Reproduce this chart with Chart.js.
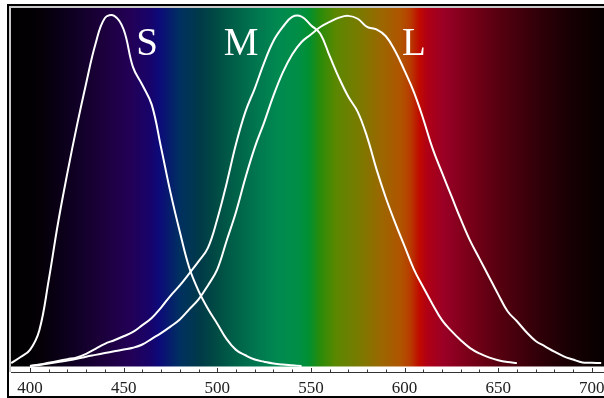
<!DOCTYPE html>
<html>
<head>
<meta charset="utf-8">
<script src="https://cdn.jsdelivr.net/npm/chart.js@4.4.0/dist/chart.umd.min.js"></script>
<style>
  html, body { margin: 0; padding: 0; background: #fff; }
  canvas { display: block; }
</style>
</head>
<body>
<canvas id="myChart" width="604" height="398"></canvas>
<script>
// cone sensitivity curves (relative units, 5 nm steps)
const wavelength = [390, 395, 400, 405, 410, 415, 420, 425, 430, 435, 440, 445, 450, 455, 460, 465,
  470, 475, 480, 485, 490, 495, 500, 505, 510, 515, 520, 525, 530, 535, 540, 545,
  550, 555, 560, 565, 570, 575, 580, 585, 590, 595, 600, 605, 610, 615, 620, 625,
  630, 635, 640, 645, 650, 655, 660, 665, 670, 675, 680, 685, 690, 695, 700, 705];

const sCone = [0.008, 0.025, 0.045, 0.10, 0.24, 0.40, 0.54, 0.67, 0.79, 0.90, 0.972, 0.978, 0.94, 0.835, 0.785, 0.73,
  0.61, 0.485, 0.375, 0.275, 0.21, 0.16, 0.118, 0.075, 0.045, 0.03, 0.018, 0.012, 0.007, 0.004, 0.002, 0.0,
  null, null, null, null, null, null, null, null, null, null, null, null, null, null, null, null,
  null, null, null, null, null, null, null, null, null, null, null, null, null, null, null, null];

const mCone = [null, null, 0.0, 0.004, 0.009, 0.014, 0.019, 0.024, 0.034, 0.048, 0.062, 0.072, 0.083, 0.095, 0.114, 0.134,
  0.163, 0.196, 0.225, 0.258, 0.292, 0.33, 0.41, 0.51, 0.62, 0.71, 0.775, 0.847, 0.908, 0.947, 0.975, 0.976,
  0.952, 0.928, 0.866, 0.805, 0.752, 0.71, 0.64, 0.55, 0.47, 0.40, 0.335, 0.27, 0.22, 0.172, 0.128, 0.098,
  0.072, 0.05, 0.035, 0.024, 0.016, 0.011, 0.008, null, null, null, null, null, null, null, null, null];

const lCone = [null, null, 0.0, 0.003, 0.007, 0.011, 0.015, 0.02, 0.026, 0.031, 0.036, 0.041, 0.046, 0.051, 0.06, 0.076,
  0.092, 0.11, 0.13, 0.158, 0.186, 0.225, 0.27, 0.35, 0.43, 0.525, 0.61, 0.68, 0.755, 0.82, 0.87, 0.905,
  0.926, 0.947, 0.961, 0.973, 0.978, 0.97, 0.947, 0.94, 0.921, 0.88, 0.825, 0.765, 0.69, 0.607, 0.54, 0.475,
  0.41, 0.35, 0.30, 0.25, 0.2, 0.153, 0.125, 0.095, 0.07, 0.055, 0.04, 0.027, 0.018, 0.01, 0.009, 0.008];

// curve names and where they sit (nm, relative)
const curveNames = ['S', 'M', 'L'];
const nameX = [462.5, 512.7, 605];
const nameY = [0.869, 0.869, 0.869];

// x axis
const xMin = 389.86;
const xMax = 706.5;
const tickStep = 50;
const minorStep = 10;

// spectrum colours behind the plot
const spectrumNm = [390, 405, 421, 437, 453, 464, 469, 480, 491, 499, 509, 523, 533, 544, 549, 555, 563, 576, 587, 598, 603, 608, 612, 621, 635, 651, 672, 688, 706.5];
const spectrumColor = ['#000000', '#040006', '#0d001f', '#1a0038', '#230055', '#18036a', '#0c0a7a', '#003060', '#003a48', '#004a44', '#006048',
  '#007a50', '#008a50', '#008e45', '#009030', '#2a8c0a', '#5a8800', '#7a7a00', '#9a6800', '#b05400', '#b83c00', '#c00a00', '#b00015',
  '#9a0025', '#780018', '#55000f', '#300008', '#180003', '#060000'];

function toPoints(ys) {
  return wavelength.map((w, i) => ({ x: w, y: ys[i] }));
}

const spectrumPlugin = {
  id: 'spectrum',
  beforeDraw(chart) {
    const { ctx, chartArea: a, scales: { x, y } } = chart;
    ctx.save();
    ctx.fillStyle = '#fff';
    ctx.fillRect(0, 0, chart.width, chart.height);
    const grad = ctx.createLinearGradient(a.left, 0, a.right, 0);
    spectrumNm.forEach((nm, i) => {
      const t = (x.getPixelForValue(nm) - a.left) / (a.right - a.left);
      grad.addColorStop(Math.min(1, Math.max(0, t)), spectrumColor[i]);
    });
    ctx.fillStyle = grad;
    const bottom = y.getPixelForValue(0) + 0.5;
    ctx.fillRect(a.left, a.top, a.right - a.left, bottom - a.top);
    ctx.restore();
  },
  afterDatasetsDraw(chart) {
    const { ctx, scales: { x, y } } = chart;
    ctx.save();
    ctx.fillStyle = '#fff';
    ctx.font = '39px "Liberation Serif", "DejaVu Serif", serif';
    ctx.textAlign = 'center';
    ctx.textBaseline = 'alphabetic';
    curveNames.forEach((n, i) => {
      ctx.fillText(n, x.getPixelForValue(nameX[i]), y.getPixelForValue(nameY[i]));
    });
    ctx.restore();
  },
  afterDraw(chart) {
    const { ctx, chartArea: a, scales: { x } } = chart;
    ctx.save();
    // inward ticks on the axis line
    ctx.strokeStyle = '#333';
    ctx.lineWidth = 1;
    ctx.beginPath();
    for (let v = 400; v <= 700; v += minorStep) {
      const px = Math.round(x.getPixelForValue(v)) + 0.5;
      const len = v % tickStep === 0 ? 4 : 2.5;
      ctx.moveTo(px, a.bottom);
      ctx.lineTo(px, a.bottom - len);
    }
    ctx.stroke();
    // frame round the picture
    ctx.fillStyle = '#000';
    ctx.fillRect(7, 4, chart.width - 7, 2);
    ctx.fillRect(7, 4, 2, chart.height - 4);
    ctx.fillRect(7, chart.height - 2, chart.width - 7, 2);
    ctx.fillStyle = '#c8c8c8';
    ctx.fillRect(9, 6, chart.width - 9, 2);
    ctx.fillRect(9, 6, 2, a.bottom - 6);
    ctx.restore();
  }
};

const line = (data) => ({
  data: data,
  borderColor: '#ffffff',
  borderWidth: 2,
  pointRadius: 0,
  fill: false,
  tension: 0.4,
  spanGaps: false
});

const chart = new Chart(document.getElementById('myChart'), {
  type: 'line',
  data: {
    datasets: [line(toPoints(sCone)), line(toPoints(mCone)), line(toPoints(lCone))]
  },
  options: {
    responsive: false,
    animation: false,
    events: [],
    layout: { padding: { left: 11, top: 8, right: 0, bottom: 1 } },
    plugins: { legend: { display: false }, tooltip: { enabled: false } },
    scales: {
      x: {
        type: 'linear',
        min: xMin,
        max: xMax,
        grid: { display: false, drawTicks: false },
        border: { display: true, color: '#333', width: 1 },
        afterBuildTicks(scale) {
          scale.ticks = scale.ticks.filter(t => t.value >= 400 && t.value <= 700 && t.value % tickStep === 0);
        },
        afterFit(scale) {
          scale.height = 25;
          scale.paddingLeft = 0;
          scale.paddingRight = 0;
        },
        ticks: {
          stepSize: tickStep,
          includeBounds: false,
          autoSkip: false,
          maxRotation: 0,
          padding: 6,
          color: '#222',
          font: { family: '"Liberation Serif", "DejaVu Serif", serif', size: 17 }
        }
      },
      y: {
        display: false,
        min: -0.0168,
        max: 1
      }
    }
  },
  plugins: [spectrumPlugin]
});
</script>
</body>
</html>
